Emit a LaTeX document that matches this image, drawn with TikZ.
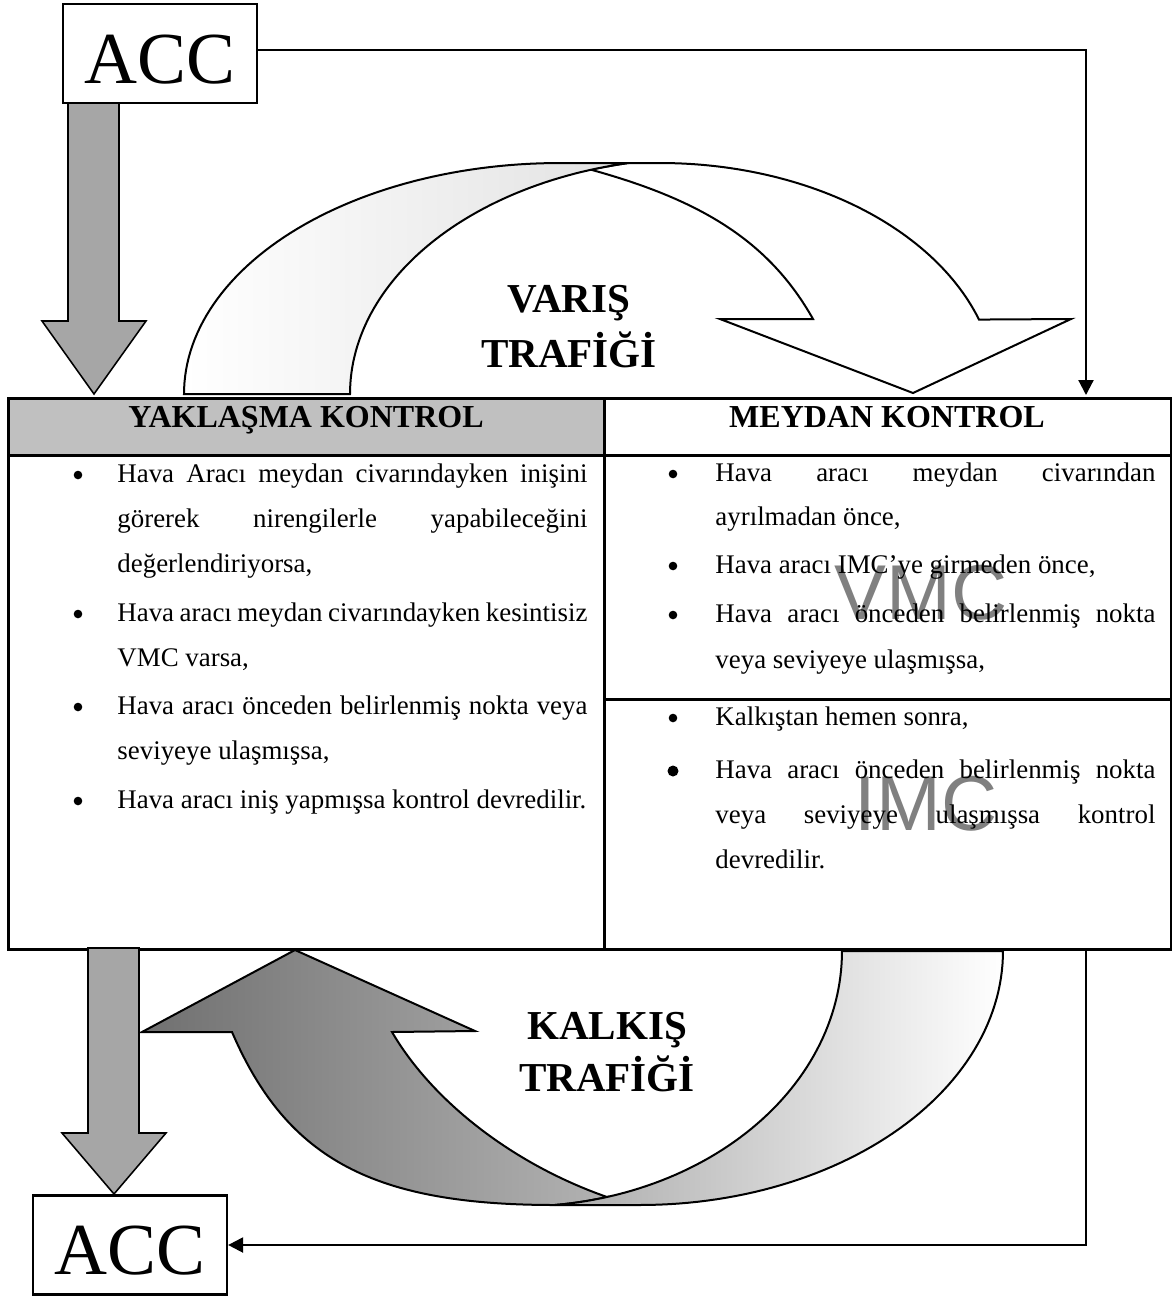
\documentclass[tikz,border=0pt]{standalone}
\usepackage{fontspec}
\setmainfont{Liberation Serif}
\newfontfamily\markfont{Liberation Sans}
\usetikzlibrary{arrows.meta}

\definecolor{hdrgray}{RGB}{192,192,192}
\definecolor{fatgray}{RGB}{166,166,166}
\definecolor{markgray}{RGB}{128,128,128}
\definecolor{darkband}{RGB}{112,112,112}
\definecolor{midband}{RGB}{178,178,178}
\definecolor{lightband}{RGB}{170,170,170}
\definecolor{paleband}{RGB}{226,226,226}

% one drawing unit = one pixel of the layout grid
\newcommand\pxu{0.45pt}
\newcommand\bodyfont{\fontsize{12.1}{14}\selectfont}
% justified text lines of the two columns
\newcommand\jl[1]{\makebox[211.5pt][s]{#1}}
\newcommand\jr[1]{\makebox[198pt][s]{#1}}

\tikzset{
  acc/.style={draw, line width=1pt, fill=white, inner sep=0pt,
    minimum width=194*\pxu, text height=79*\pxu, text depth=20*\pxu,
    font=\fontsize{33}{38}\selectfont},
  cell/.style={draw, line width=1.3pt, inner sep=0pt, anchor=north west},
  hdr/.style={inner sep=0pt, anchor=base, font=\fontsize{14.4}{17}\selectfont\bfseries},
  txt/.style={inner sep=0pt, anchor=base west, font=\bodyfont},
  dot/.style={circle, fill=black, inner sep=0pt, minimum size=8.6*\pxu},
  bigdot/.style={dot, minimum size=11*\pxu},
  flow/.style={inner sep=0pt, anchor=base, font=\fontsize{18.5}{22}\selectfont\bfseries},
  wmark/.style={inner sep=0pt, anchor=base, text=markgray,
    font=\markfont\fontsize{35}{40}\selectfont},
  conn/.style={line width=1pt, -{Triangle[length=15*\pxu, width=15*\pxu]}},
  fat/.style={draw, line width=0.7pt, fill=fatgray, line join=miter},
  band/.style={draw, line width=0.9pt, line join=miter},
}

\begin{document}
\begin{tikzpicture}[x=0.45pt, y=-0.45pt]
\useasboundingbox (0,0) rectangle (1172,1297);

% ---------- table ----------
\node[cell, fill=hdrgray, minimum width=596*\pxu, minimum height=57*\pxu] (yakcell) at (7,397) {};
\node[cell, minimum width=567*\pxu, minimum height=57*\pxu] (meycell) at (603,397) {};
\node[cell, minimum width=596*\pxu, minimum height=494*\pxu] (leftbody) at (7,454) {};
\node[cell, minimum width=567*\pxu, minimum height=244*\pxu] (vmccell) at (603,454) {};
\node[cell, minimum width=567*\pxu, minimum height=250*\pxu] (imccell) at (603,698) {};

\node[hdr] (yaktitle) at (306,427) {YAKLAŞMA KONTROL};
\node[hdr] (meytitle) at (887,427) {MEYDAN KONTROL};

% watermarks behind the right column
\node[wmark] (vmcmark) at (921,619) {VMC};
\node[wmark] (imcmark) at (926,830) {IMC};

% left column
\node[dot] (lb1) at (78,475) {};
\node[txt] (l1) at (117,482) {\jl{Hava Aracı meydan civarındayken inişini}};
\node[txt] (l2) at (117,527) {\jl{görerek nirengilerle yapabileceğini}};
\node[txt] (l3) at (117,572) {değerlendiriyorsa,};
\node[dot] (lb2) at (78,614) {};
\node[txt] (l4) at (117,621) {\jl{Hava aracı meydan civarındayken kesintisiz}};
\node[txt] (l5) at (117,666) {VMC varsa,};
\node[dot] (lb3) at (78,707) {};
\node[txt] (l6) at (117,714) {\jl{Hava aracı önceden belirlenmiş nokta veya}};
\node[txt] (l7) at (117,759) {seviyeye ulaşmışsa,};
\node[dot] (lb4) at (78,801) {};
\node[txt] (l8) at (117,808) {Hava aracı iniş yapmışsa kontrol devredilir.};

% right column
\node[dot] (rb1) at (673,474) {};
\node[txt] (r1) at (715,481) {\jr{Hava aracı meydan civarından}};
\node[txt] (r2) at (715,525) {ayrılmadan önce,};
\node[dot] (rb2) at (673,566) {};
\node[txt] (r3) at (715,573) {Hava aracı IMC’ye girmeden önce,};
\node[dot] (rb3) at (673,615) {};
\node[txt] (r4) at (715,622) {\jr{Hava aracı önceden belirlenmiş nokta}};
\node[txt] (r5) at (715,668) {veya seviyeye ulaşmışsa,};
\node[dot] (rb4) at (673,718) {};
\node[txt] (r6) at (715,725) {Kalkıştan hemen sonra,};
\node[bigdot] (rb5) at (673,771) {};
\node[txt] (r7) at (715,778) {\jr{Hava aracı önceden belirlenmiş nokta}};
\node[txt] (r8) at (715,823) {\jr{veya seviyeye ulaşmışsa kontrol}};
\node[txt] (r9) at (715,868) {devredilir.};

% ---------- ACC boxes and thin connectors ----------
\node[acc] (accin) at (160,53.5) {ACC};
\node[acc] (accout) at (130,1245) {ACC};

\coordinate (inhit) at (1086,395);
\draw[conn] ([yshift=1.6pt]accin.east) -| (inhit);
\coordinate (outstart) at (1086,948);
\draw[conn] (outstart) |- (accout.east);

% ---------- straight grey block arrows ----------
\path[fat] (68,103) -- (119,103) -- (119,321) -- (146,321) -- (94,394)
  -- (42,321) -- (68,321) -- cycle;
\path[fat] (88,948) -- (139,948) -- (139,1133) -- (166,1133) -- (114,1194)
  -- (62,1133) -- (88,1133) -- cycle;

% ---------- curved arrow: arrivals ----------
% head band
\path[band, fill=white] (591,169.7)
  -- plot[variable=\t, domain=108.14:101.8, samples=8] ({700+350*cos(\t)},{394-236*sin(\t)})
  -- (660,163)
  -- plot[variable=\t, domain=90:18.8, samples=60] ({660+337*cos(\t)},{394-231*sin(\t)})
  -- (1071,319) -- (913,393) -- (720,319) -- (813,319)
  .. controls (769,241) and (701,200) .. (591,169.7) -- cycle;
% tail band
\path[band, left color=white, right color=paleband] (184,394)
  -- plot[variable=\t, domain=180:90, samples=60] ({560+376*cos(\t)},{394-231*sin(\t)})
  -- plot[variable=\t, domain=101.8:180, samples=60] ({700+350*cos(\t)},{394-236*sin(\t)})
  -- cycle;

\node[flow] (varis1) at (569,312) {VARIŞ};
\node[flow] (varis2) at (569,367) {TRAFİĞİ};

% ---------- curved arrow: departures ----------
% head band
\path[band, left color=darkband, right color=midband] (607,1197)
  .. controls (512.6,1164) and (432.3,1101) .. (392,1032)
  -- (475,1031) -- (295,950) -- (142,1032) -- (232,1032)
  .. controls (287.4,1160.5) and (375,1205) .. (555,1205)
  -- plot[variable=\t, domain=83.8:74.32, samples=8] ({520+322*cos(\t)},{951+255.5*sin(\t)})
  -- cycle;
% tail band
\path[band, left color=lightband, right color=white] (1003,951)
  -- plot[variable=\t, domain=0:90, samples=60] ({640+363*cos(\t)},{951+254*sin(\t)})
  -- plot[variable=\t, domain=83.8:0, samples=60] ({520+322*cos(\t)},{951+255.5*sin(\t)})
  -- cycle;

\node[flow] (kalkis1) at (607,1039) {KALKIŞ};
\node[flow] (kalkis2) at (607,1091) {TRAFİĞİ};

\end{tikzpicture}
\end{document}
